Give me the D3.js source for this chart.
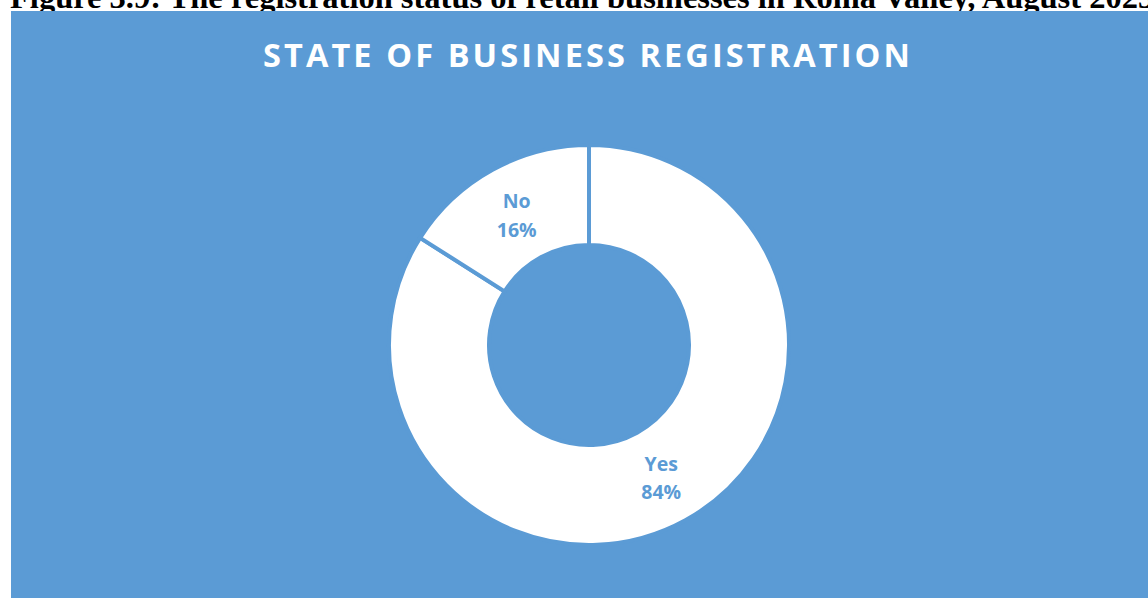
<!DOCTYPE html>
<html>
<head>
<meta charset="utf-8">
<script src="https://cdn.jsdelivr.net/npm/d3@7"></script>
<style>
  html, body { margin: 0; padding: 0; background: #ffffff; }
  svg { display: block; }
</style>
</head>
<body>
<svg id="chart" width="1148" height="598"></svg>
<script>
const categories = ["Yes", "No"];
const values = [84, 16];
const valueLabels = ["84%", "16%"];
const chartTitle = "STATE OF BUSINESS REGISTRATION";
const caption = "Figure 3.9: The registration status of retail businesses in Roma Valley, August 2023";

const W = 1148, H = 598;
const blue = "#5B9BD5";
const svg = d3.select("#chart");

// caption (cut off at top, as in the reference)
svg.append("text")
  .attr("x", 10).attr("y", 7.5)
  .attr("font-family", "'Liberation Serif', 'Times New Roman', serif")
  .attr("font-weight", "bold")
  .attr("font-size", 32.5)
  .attr("fill", "#000")
  .text(caption);

// chart panel
svg.append("rect")
  .attr("x", 11).attr("y", 11)
  .attr("width", W - 11).attr("height", H - 11)
  .attr("fill", blue);

// title
const title = svg.append("text")
  .attr("x", 586.5).attr("y", 67)
  .attr("text-anchor", "middle")
  .attr("font-family", "'Open Sans', Lato, sans-serif")
  .attr("font-weight", "bold")
  .attr("font-size", 32.5)
  .attr("fill", "#ffffff")
  .text(chartTitle);
{
  const target = 647;
  const n = chartTitle.length;
  const base = title.node().getComputedTextLength();
  const ls = (target - base) / (n - 1);
  title.attr("letter-spacing", ls);
  title.attr("x", 586.5 + ls / 2);
}

// donut
const cx = 589, cy = 345;
const pie = d3.pie().sort(null).value(d => d.value);
const data = categories.map((c, i) => ({ cat: c, value: values[i], label: valueLabels[i] }));
const arcs = pie(data);
const arc = d3.arc().innerRadius(100).outerRadius(200);
const labelArc = d3.arc().innerRadius(150).outerRadius(150);

const g = svg.append("g").attr("transform", `translate(${cx},${cy})`);
g.selectAll("path.slice")
  .data(arcs)
  .join("path")
  .attr("class", "slice")
  .attr("d", arc)
  .attr("fill", "#ffffff")
  .attr("stroke", blue)
  .attr("stroke-width", 4)
  .attr("stroke-linejoin", "miter");

const lbl = g.selectAll("g.lbl")
  .data(arcs)
  .join("g")
  .attr("class", "lbl")
  .attr("transform", d => `translate(${labelArc.centroid(d)})`);

lbl.append("text")
  .attr("y", -5.5)
  .attr("text-anchor", "middle")
  .attr("font-family", "'Open Sans', Lato, sans-serif")
  .attr("font-weight", "bold")
  .attr("font-size", 19.5)
  .attr("fill", blue)
  .text(d => d.data.cat);

lbl.append("text")
  .attr("y", 23)
  .attr("text-anchor", "middle")
  .attr("font-family", "'Open Sans', Lato, sans-serif")
  .attr("font-weight", "bold")
  .attr("font-size", 19.5)
  .attr("fill", blue)
  .text(d => d.data.label);
</script>
</body>
</html>
